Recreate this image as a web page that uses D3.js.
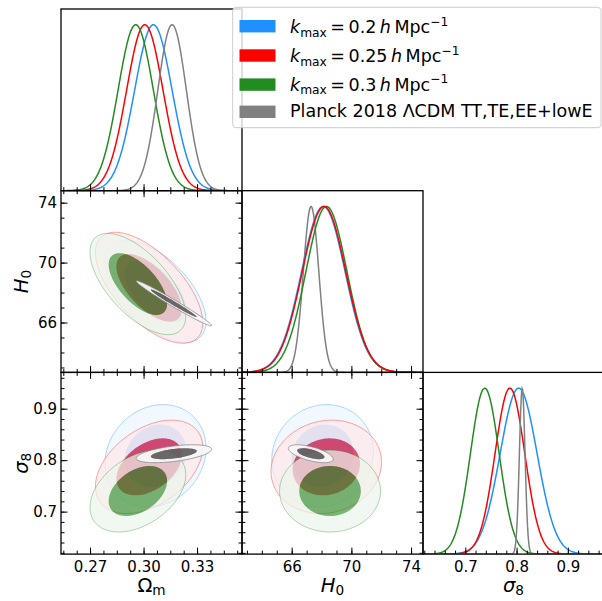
<!DOCTYPE html>
<html><head><meta charset="utf-8">
<script src="https://cdn.jsdelivr.net/npm/d3@7"></script>
<style>body{margin:0;background:#fff}text{font-family:"DejaVu Sans",sans-serif}</style>
</head><body><svg id="c" width="602" height="601"></svg>
<script>
// ---------------- data ----------------
const seriesNames  = ["kmax 0.2", "kmax 0.25", "kmax 0.3", "Planck"];
const kmaxValues   = ["0.2", "0.25", "0.3"];
const planckLabel  = "Planck 2018 \u039BCDM TT,TE,EE+lowE";
const seriesColors = ["#1e90ff", "#ff0000", "#228b22", "#808080"];

// 1D marginals: peak position and width (sd)
const peakOm = [0.3055, 0.3007, 0.2956, 0.3160];
const sdOm   = [0.0105, 0.0102, 0.0099, 0.0080];
const peakH0 = [68.12, 68.17, 68.33, 67.30];
const sdH0   = [1.46, 1.46, 1.38, 0.52];
const peakS8 = [0.804, 0.787, 0.738, 0.811];
const sdS8   = [0.036, 0.029, 0.028, 0.0055];

// 2D contours: centres, widths, correlations
const cenOm = [0.3067, 0.3031, 0.2968, 0.3170];
const cenH0 = [68.07, 68.32, 68.57, 67.28];
const cenS8 = [0.8085, 0.787, 0.740, 0.8125];
const widOm = [0.0114, 0.0121, 0.0108, 0.0085];
const widH0 = [1.37, 1.49, 1.36, 0.605];
const widS8 = [0.040, 0.0365, 0.032, 0.0070];
const corOmH0 = [-0.58, -0.63, -0.63, -0.985];
const corOmS8 = [0.15, 0.42, 0.40, 0.50];
const corH0S8 = [0.08, 0.10, 0.00, -0.60];

// axes
const domOm = [0.2537, 0.3552], domH0 = [62.67, 74.8], domS8 = [0.6175, 0.9705];
const majorOm = [0.27, 0.30, 0.33];
const minorOm = [0.255,0.2625,0.27,0.2775,0.285,0.2925,0.30,0.3075,0.315,0.3225,0.33,0.3375,0.345,0.3525];
const majorH0 = [66, 70, 74];
const minorH0 = [63,64,65,66,67,68,69,70,71,72,73,74];
const majorS8 = [0.7, 0.8, 0.9];
const minorS8 = [0.62,0.64,0.66,0.68,0.70,0.72,0.74,0.76,0.78,0.80,0.82,0.84,0.86,0.88,0.90,0.92,0.94,0.96];
const levels2D = [2.30, 6.18]; // 68% and 95% (delta chi^2)

// ---------------- layout ----------------
const svg = d3.select("#c");
const X0 = 61, Y0 = 9, PW = 181, PH = 181.7;
const P = [
  {dom: domOm, major: majorOm, minor: minorOm, fmt: d3.format(".2f"), peak: peakOm, sd: sdOm, cen: cenOm, wid: widOm},
  {dom: domH0, major: majorH0, minor: minorH0, fmt: d3.format("d"),   peak: peakH0, sd: sdH0, cen: cenH0, wid: widH0},
  {dom: domS8, major: majorS8, minor: minorS8, fmt: d3.format(".1f"), peak: peakS8, sd: sdS8, cen: cenS8, wid: widS8}
];
const corr = {"0-1": corOmH0, "0-2": corOmS8, "1-2": corH0S8};

let clipId = 0;
function panel(r, c) {
  const x0 = X0 + c * PW, y0 = Y0 + r * PH;
  const g = svg.append("g");
  const id = "clip" + (clipId++);
  g.append("clipPath").attr("id", id).append("rect")
    .attr("x", x0).attr("y", y0).attr("width", PW).attr("height", PH);
  const xs = d3.scaleLinear().domain(P[c].dom).range([x0, x0 + PW]);
  return {g, x0, y0, xs, clip: "url(#" + id + ")"};
}

function axes(pn, xs, ys, opts) {
  const {g, x0, y0} = pn;
  const add = (axis, tx, ty) => {
    const a = g.append("g").attr("transform", `translate(${tx},${ty})`).call(axis);
    a.select(".domain").remove();
    a.selectAll("line").attr("stroke", "#000").attr("stroke-width", 1);
    a.selectAll("text").attr("font-size", 15).attr("font-family", "DejaVu Sans").attr("fill", "#000");
    return a;
  };
  const px = P[opts.cx];
  add(d3.axisBottom(xs).tickValues(px.minor).tickSize(-3.5).tickFormat(""), 0, y0 + PH);
  add(d3.axisBottom(xs).tickValues(px.major).tickSize(-6.5).tickPadding(7)
      .tickFormat(opts.xlab ? px.fmt : ""), 0, y0 + PH);
  if (ys) {
    const py = P[opts.cy];
    add(d3.axisTop(xs).tickValues(px.minor).tickSize(-3.5).tickFormat(""), 0, y0);
    add(d3.axisTop(xs).tickValues(px.major).tickSize(-6.5).tickFormat(""), 0, y0);
    add(d3.axisLeft(ys).tickValues(py.minor).tickSize(-3.5).tickFormat(""), x0, 0);
    add(d3.axisLeft(ys).tickValues(py.major).tickSize(-6.5).tickPadding(4)
        .tickFormat(opts.ylab ? py.fmt : ""), x0, 0);
    add(d3.axisRight(ys).tickValues(py.minor).tickSize(-3.5).tickFormat(""), x0 + PW, 0);
    add(d3.axisRight(ys).tickValues(py.major).tickSize(-6.5).tickFormat(""), x0 + PW, 0);
  }
}

function frame(pn) {
  pn.g.append("rect").attr("x", pn.x0).attr("y", pn.y0).attr("width", PW).attr("height", PH)
    .attr("fill", "none").attr("stroke", "#000").attr("stroke-width", 1.3);
}

// ---------------- 1D panels ----------------
for (let i = 0; i < 3; i++) {
  const pn = panel(i, i);
  const ys = d3.scaleLinear().domain([0, 1.095]).range([pn.y0 + PH, pn.y0]);
  const grid = d3.range(0, 401).map(k => P[i].dom[0] + (P[i].dom[1] - P[i].dom[0]) * k / 400);
  const line = d3.line().x(d => pn.xs(d[0])).y(d => ys(d[1]));
  const order = i === 1 ? [3, 0, 2, 1] : [0, 1, 2, 3];
  const gc = pn.g.append("g").attr("clip-path", pn.clip);
  order.forEach(s => {
    const m = P[i].peak[s], sd = P[i].sd[s];
    const pts = grid.map(x => [x, Math.exp(-0.5 * ((x - m) / sd) ** 2)]);
    gc.append("path").attr("d", line(pts)).attr("fill", "none")
      .attr("stroke", seriesColors[s]).attr("stroke-width", 1.5);
  });
  axes(pn, pn.xs, null, {cx: i, xlab: i === 2});
  frame(pn);
}

// ---------------- 2D panels ----------------
function ellipsePts(mx, my, sx, sy, rho, d2) {
  const k = Math.sqrt(d2), q = Math.sqrt(1 - rho * rho);
  return d3.range(0, 180).map(j => {
    const t = 2 * Math.PI * j / 180;
    return [mx + k * sx * Math.cos(t), my + k * sy * (rho * Math.cos(t) + q * Math.sin(t))];
  });
}
const outerMix   = [0.91, 0.91, 0.91, 0.94];
const outerAlpha = [0.70, 0.70, 0.70, 0.92];
const innerCol   = ["#1e90ff", "#e0143c", "#228b22", "#626262"];
const innerAlpha = [0.42, 0.72, 0.62, 0.95];
const lineAlpha  = [0.35, 0.35, 0.35, 0.75];

[[1, 0], [2, 0], [2, 1]].forEach(([r, c]) => {
  const pn = panel(r, c);
  const ys = d3.scaleLinear().domain(P[r].dom).range([pn.y0 + PH, pn.y0]);
  const line = d3.line().x(d => pn.xs(d[0])).y(d => ys(d[1])).curve(d3.curveLinearClosed);
  const rho = corr[c + "-" + r];
  const gc = pn.g.append("g").attr("clip-path", pn.clip);
  for (let s = 0; s < 4; s++) {
    const mx = P[c].cen[s], my = P[r].cen[s], sx = P[c].wid[s], sy = P[r].wid[s];
    const inner = ellipsePts(mx, my, sx, sy, rho[s], levels2D[0]);
    const outer = ellipsePts(mx, my, sx, sy, rho[s], levels2D[1]);
    const col = d3.rgb(seriesColors[s]);
    gc.append("path").attr("d", line(outer) + line(inner.slice().reverse()))
      .attr("fill", d3.interpolateRgb(col, "#fff")(outerMix[s])).attr("fill-opacity", outerAlpha[s])
      .attr("fill-rule", "evenodd");
    gc.append("path").attr("d", line(outer)).attr("fill", "none")
      .attr("stroke", col).attr("stroke-opacity", lineAlpha[s]).attr("stroke-width", 1);
    gc.append("path").attr("d", line(inner)).attr("fill", innerCol[s]).attr("fill-opacity", innerAlpha[s]);
  }
  axes(pn, pn.xs, ys, {cx: c, cy: r, xlab: r === 2, ylab: c === 0});
  frame(pn);
});

// ---------------- axis labels ----------------
function mathLabel(sel, main, sub, italic) {
  sel.append("tspan").attr("font-style", italic ? "italic" : "normal").text(main);
  sel.append("tspan").attr("font-size", "70%").attr("dy", "0.2em").text(sub);
}
const xLabs = [["\u03A9", "m", false], ["H", "0", true], ["\u03C3", "8", true]];
xLabs.forEach((l, i) => {
  const t = svg.append("text").attr("x", X0 + i * PW + PW / 2).attr("y", 592)
    .attr("text-anchor", "middle").attr("font-size", 19.5);
  mathLabel(t, l[0], l[1], l[2]);
});
[[1, xLabs[1]], [2, xLabs[2]]].forEach(([r, l]) => {
  const cy = Y0 + r * PH + PH / 2;
  const t = svg.append("text").attr("transform", `translate(28,${cy}) rotate(-90)`)
    .attr("text-anchor", "middle").attr("font-size", 19.5);
  mathLabel(t, l[0], l[1], l[2]);
});

// ---------------- legend ----------------
const lg = svg.append("g");
lg.append("rect").attr("x", 232.7).attr("y", 7.3).attr("width", 368.3).attr("height", 120.4).attr("rx", 3.5)
  .attr("fill", "#fff").attr("fill-opacity", 0.8).attr("stroke", "#cccccc").attr("stroke-width", 1);
const patchY = [26.2, 55.5, 84.6, 111.8];
const textY = [33.2, 62.0, 90.6, 117.4];
seriesNames.forEach((n, i) => {
  lg.append("rect").attr("x", 239.5).attr("y", patchY[i] - 6.2).attr("width", 36).attr("height", 12.4)
    .attr("fill", seriesColors[i]);
  const t = lg.append("text").attr("x", 290).attr("y", textY[i]).attr("font-size", 17.5)
    .style("white-space", "pre");
  if (i < 3) {
    t.append("tspan").attr("font-style", "italic").text("k");
    t.append("tspan").attr("font-size", 12.25).attr("dy", 3.6).text("max");
    t.append("tspan").attr("dy", -3.6).text("\u2009=\u2009" + kmaxValues[i] + "\u2009");
    t.append("tspan").attr("font-style", "italic").text("h");
    t.append("tspan").text("\u2009Mpc");
    t.append("tspan").attr("font-size", 12.25).attr("dy", -7.5).text("\u22121");
  } else {
    t.text(planckLabel);
  }
});
</script></body></html>
